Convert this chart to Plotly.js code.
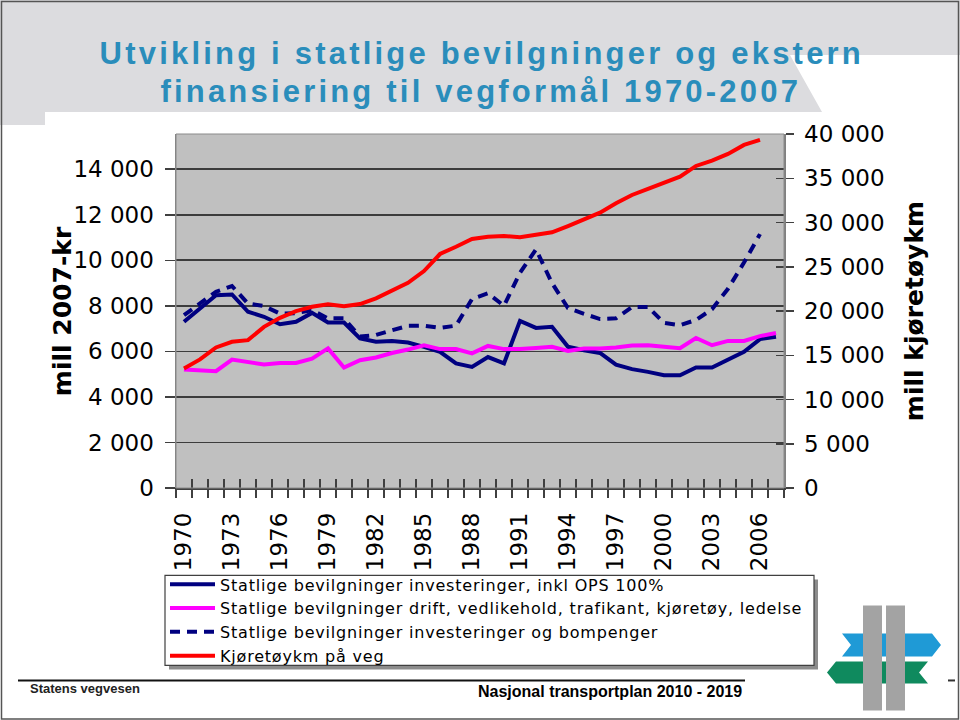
<!DOCTYPE html>
<html><head><meta charset="utf-8">
<script src="https://cdn.plot.ly/plotly-3.0.1.min.js"></script>
<style>html,body{margin:0;padding:0;background:#fff} .legendtext{letter-spacing:0.8px}</style>
</head><body><div id="chart" style="width:960px;height:720px"></div>
<script>
// ---- data ----
const years = [1970,1971,1972,1973,1974,1975,1976,1977,1978,1979,1980,1981,1982,1983,1984,1985,1986,1987,1988,1989,1990,1991,1992,1993,1994,1995,1996,1997,1998,1999,2000,2001,2002,2003,2004,2005,2006,2007];
const investOPS = [7300,7880,8470,8500,7740,7520,7190,7300,7690,7270,7270,6570,6420,6460,6390,6200,5980,5470,5320,5750,5470,7340,7030,7080,6200,6050,5930,5420,5220,5100,4950,4950,5290,5290,5640,5980,6540,6640];
const driftVedlikehold = [5200,5170,5130,5640,5510,5420,5490,5490,5680,6130,5290,5610,5730,5930,6080,6270,6100,6100,5910,6240,6100,6100,6150,6200,6020,6130,6130,6170,6260,6270,6200,6140,6590,6270,6460,6460,6670,6810];
const investBompenger = [7590,8130,8620,8870,8100,7990,7660,7680,7810,7450,7450,6650,6720,6930,7120,7130,7030,7130,8300,8550,8000,9450,10480,9000,7900,7650,7420,7450,7950,7950,7250,7150,7380,7850,8750,9900,11150];
const kjoretoykm = [13510,14530,15880,16520,16710,18210,19230,19990,20480,20750,20550,20780,21430,22290,23190,24510,26440,27260,28130,28390,28470,28330,28590,28890,29600,30360,31110,32170,33110,33800,34430,35180,36390,36990,37750,38770,39330];
const seriesNames = [
  "Statlige bevilgninger investeringer, inkl OPS 100%",
  "Statlige bevilgninger drift, vedlikehold, trafikant, kjøretøy, ledelse",
  "Statlige bevilgninger investeringer og bompenger",
  "Kjøretøykm på veg"
];
const xLabelYears = [1970,1973,1976,1979,1982,1985,1988,1991,1994,1997,2000,2003,2006];
const leftTicks = [0,2000,4000,6000,8000,10000,12000,14000];
const rightTicks = [0,5000,10000,15000,20000,25000,30000,35000,40000];

// ---- geometry helpers (pixel -> paper) ----
const L=176, R=784, T=134, B=487.7;
const px = x => (x-L)/(R-L);
const py = y => (B-y)/(B-T);
function poly(pts){ return 'M' + pts.map(p => px(p[0]).toFixed(5)+','+py(p[1]).toFixed(5)).join('L') + 'Z'; }
function rect(x0,y0,x1,y1,extra){ return Object.assign({type:'rect', xref:'paper', yref:'paper', x0:px(x0), x1:px(x1), y0:py(y1), y1:py(y0)}, extra); }

const fontMain = 'DejaVu Sans, Verdana, sans-serif';
const navy = '#000080';

const traces = [
  {x: years, y: investOPS, name: seriesNames[0], type:'scatter', mode:'lines', line:{color:navy, width:4}},
  {x: years, y: driftVedlikehold, name: seriesNames[1], type:'scatter', mode:'lines', line:{color:'#ff00ff', width:4}},
  {x: years.slice(0, investBompenger.length), y: investBompenger, name: seriesNames[2], type:'scatter', mode:'lines', line:{color:navy, width:4, dash:'10px,7px'}},
  {x: years.slice(0, kjoretoykm.length), y: kjoretoykm, name: seriesNames[3], type:'scatter', mode:'lines', line:{color:'#ff0000', width:4}, yaxis:'y2'},
  {x: [], y: [], xaxis:'x2', yaxis:'y', showlegend:false, hoverinfo:'skip'},
  {x: [], y: [], xaxis:'x', yaxis:'y3', showlegend:false, hoverinfo:'skip'}
];

const tickFont = {family: fontMain, size: 23, color:'#000'};
const fmt = v => String(v).replace(/\B(?=(\d{3})+(?!\d))/g, ' ');

const layout = {
  width:960, height:720,
  margin:{l:L, r:960-R, t:T, b:720-B, pad:0},
  paper_bgcolor:'#ffffff', plot_bgcolor:'#c0c0c0',
  showlegend:true,
  xaxis:{
    type:'linear', range:[1969.5, 2007.5], fixedrange:true,
    tickmode:'array', tickvals:xLabelYears, ticktext:xLabelYears.map(String),
    ticks:'', tickangle:-90, tickfont:tickFont, ticklabelstandoff:14,
    showgrid:false, zeroline:false, showline:true, linecolor:'#404040', linewidth:1.5,
    minor:{tickmode:'linear', tick0:1969.5, dtick:1, ticks:'outside', ticklen:8, tickcolor:'#404040', tickwidth:1.5, showgrid:false}
  },
  xaxis2:{
    type:'linear', overlaying:'x', anchor:'y', side:'bottom', range:[1969.5, 2007.5],
    tickmode:'linear', tick0:1969.5, dtick:1, ticks:'inside', ticklen:9, tickcolor:'#404040', tickwidth:1.5,
    showticklabels:false, showgrid:false, zeroline:false, showline:false
  },
  yaxis:{
    range:[0, 15547], fixedrange:true,
    tickmode:'array', tickvals:leftTicks, ticktext:leftTicks.map(fmt),
    ticks:'outside', ticklen:10, tickcolor:'#404040', tickwidth:1.5, tickfont:tickFont, ticklabelstandoff:6,
    showgrid:true, gridcolor:'#3c3c3c', gridwidth:1.6,
    zeroline:false, showline:true, linecolor:'#808080', linewidth:1.5
  },
  yaxis2:{
    range:[0, 40000], overlaying:'y', side:'right', anchor:'x', fixedrange:true,
    tickmode:'array', tickvals:rightTicks, ticktext:rightTicks.map(fmt),
    ticks:'outside', ticklen:8, tickcolor:'#404040', tickwidth:1.5, tickfont:tickFont, ticklabelstandoff:6,
    showgrid:false, zeroline:false, showline:true, linecolor:'#808080', linewidth:1.5
  },
  yaxis3:{
    range:[0, 40000], overlaying:'y', side:'right', anchor:'x',
    tickmode:'array', tickvals:rightTicks, ticks:'inside', ticklen:8, tickcolor:'#404040', tickwidth:1.5,
    showticklabels:false, showgrid:false, zeroline:false, showline:false
  },
  legend:{
    x:px(165), y:py(567), xanchor:'left', yanchor:'top',
    bgcolor:'rgba(0,0,0,0)', borderwidth:0,
    font:{family:fontMain, size:16, color:'#000'},
    itemwidth:45, tracegroupgap:0, traceorder:'normal'
  },
  shapes:[
    {type:'path', xref:'paper', yref:'paper', path:poly([[0,0],[960,0],[960,55],[790,55],[822,112],[45,112],[45,125],[0,125]]), fillcolor:'#dcdcdf', line:{width:0}, layer:'below'},
    rect(1.5,1.5,958.5,718.5,{line:{color:'#555555', width:1.5}, fillcolor:'rgba(0,0,0,0)', layer:'above'}),
    rect(L,T,R,B,{line:{color:'#8a8a8a', width:1}, fillcolor:'rgba(0,0,0,0)', layer:'above'}),
    // legend box with shadow
    rect(169,579,818,669,{line:{width:0}, fillcolor:'#8c8c8c', layer:'above'}),
    rect(165,575,814,665,{line:{color:'#404040', width:1.2}, fillcolor:'#ffffff', layer:'above'}),
    {type:'line', xref:'paper', yref:'paper', x0:px(18), x1:px(745), y0:py(680), y1:py(680), line:{color:'#111', width:2}},
    {type:'path', xref:'paper', yref:'paper', path:poly([[842,633],[932,633],[941,644.5],[932,656],[842,656],[851,644.5]]), fillcolor:'#1f9ad6', line:{width:0}},
    {type:'path', xref:'paper', yref:'paper', path:poly([[836,661],[928,661],[919,672],[928,683],[836,683],[827,672]]), fillcolor:'#0f8a5e', line:{width:0}},
    rect(863,605,882,710,{fillcolor:'#a3a3a3', line:{width:0}}),
    rect(886,605,905,710,{fillcolor:'#a3a3a3', line:{width:0}}),
    {type:'line', xref:'paper', yref:'paper', x0:px(948), x1:px(955), y0:py(680), y1:py(680), line:{color:'#333', width:2}}
  ],
  annotations:[
    {xref:'paper', yref:'paper', x:px(482), y:py(54), text:'<b>Utvikling i statlige bevilgninger og ekstern</b>', showarrow:false, xanchor:'center', yanchor:'middle', font:{family:'Liberation Sans, Arial, sans-serif', size:31, color:'#2a8dbb'}},
    {xref:'paper', yref:'paper', x:px(481), y:py(92), text:'<b>finansiering til vegformål 1970-2007</b>', showarrow:false, xanchor:'center', yanchor:'middle', font:{family:'Liberation Sans, Arial, sans-serif', size:31, color:'#2a8dbb'}},
    {xref:'paper', yref:'paper', x:px(62), y:py(311), text:'<b>mill 2007-kr</b>', textangle:-90, showarrow:false, xanchor:'center', yanchor:'middle', font:{family:fontMain, size:25, color:'#000'}},
    {xref:'paper', yref:'paper', x:px(914), y:py(311), text:'<b>mill kjøretøykm</b>', textangle:-90, showarrow:false, xanchor:'center', yanchor:'middle', font:{family:fontMain, size:25, color:'#000'}},
    {xref:'paper', yref:'paper', x:px(28), y:py(688), text:'<b>Statens vegvesen</b>', showarrow:false, xanchor:'left', yanchor:'middle', font:{family:'Liberation Sans, Arial, sans-serif', size:13, color:'#222'}},
    {xref:'paper', yref:'paper', x:px(744), y:py(691), text:'<b>Nasjonal transportplan 2010 - 2019</b>', showarrow:false, xanchor:'right', yanchor:'middle', font:{family:'Liberation Sans Narrow, Arial Narrow, Liberation Sans, sans-serif', size:16, color:'#000'}}
  ]
};

Plotly.newPlot('chart', traces, layout, {displayModeBar:false, staticPlot:true}).then(() => {
  document.querySelectorAll('g.annotation').forEach(g => {
    const idx = g.getAttribute('data-index');
    if (idx === '0' || idx === '1') {
      g.querySelectorAll('text').forEach(t => t.style.letterSpacing = '3.2px');
    }
  });
});
</script>
</body></html>
